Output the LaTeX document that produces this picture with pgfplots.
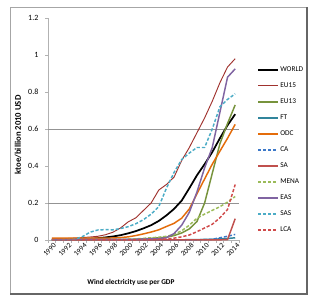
\documentclass[border=0pt]{standalone}
\usepackage{fontspec}
\setmainfont{Carlito}
\usepackage{pgfplots}
\usepackage{pgfplotstable}
\pgfplotsset{compat=1.18}
\definecolor{cEUa}{HTML}{A0322E}
\definecolor{cEUb}{HTML}{77933C}
\definecolor{cFT}{HTML}{31859C}
\definecolor{cODC}{HTML}{E46C0A}
\definecolor{cCA}{HTML}{3C78C8}
\definecolor{cSA}{HTML}{C0504D}
\definecolor{cMENA}{HTML}{9BBB59}
\definecolor{cEAS}{HTML}{8064A2}
\definecolor{cSAS}{HTML}{4BACC6}
\definecolor{cLCA}{HTML}{D04A4A}
\pgfplotstableread{
year WORLD EU15 EU13 FT ODC CA SA MENA EAS SAS LCA
1990 0.002 0.006 0.001 0.001 0.010 0.000 0.001 0.001 0.002 0.000 0.000
1991 0.002 0.007 0.001 0.001 0.010 0.000 0.001 0.001 0.002 0.000 0.000
1992 0.003 0.008 0.001 0.001 0.010 0.000 0.001 0.002 0.002 0.001 0.000
1993 0.004 0.010 0.001 0.001 0.010 0.000 0.001 0.002 0.003 0.003 0.000
1994 0.005 0.013 0.001 0.001 0.010 0.000 0.001 0.002 0.003 0.018 0.000
1995 0.007 0.016 0.001 0.001 0.010 0.000 0.001 0.002 0.003 0.042 0.001
1996 0.010 0.020 0.001 0.001 0.010 0.000 0.001 0.002 0.003 0.054 0.001
1997 0.014 0.028 0.001 0.001 0.010 0.000 0.001 0.003 0.003 0.056 0.001
1998 0.019 0.042 0.002 0.001 0.011 0.000 0.001 0.003 0.003 0.055 0.001
1999 0.026 0.065 0.002 0.001 0.013 0.000 0.001 0.003 0.004 0.062 0.001
2000 0.036 0.098 0.003 0.001 0.017 0.000 0.001 0.004 0.004 0.072 0.001
2001 0.048 0.120 0.004 0.001 0.024 0.000 0.001 0.006 0.004 0.088 0.001
2002 0.063 0.160 0.006 0.001 0.033 0.000 0.001 0.009 0.005 0.110 0.002
2003 0.080 0.200 0.009 0.001 0.043 0.000 0.001 0.012 0.006 0.140 0.002
2004 0.103 0.270 0.012 0.001 0.055 0.000 0.001 0.015 0.008 0.180 0.003
2005 0.133 0.300 0.015 0.001 0.073 0.000 0.001 0.020 0.012 0.280 0.005
2006 0.168 0.340 0.024 0.001 0.090 0.000 0.001 0.030 0.035 0.365 0.010
2007 0.213 0.430 0.038 0.001 0.118 0.000 0.001 0.050 0.080 0.435 0.017
2008 0.280 0.500 0.060 0.002 0.168 0.000 0.001 0.080 0.150 0.470 0.027
2009 0.350 0.580 0.100 0.002 0.250 0.001 0.001 0.118 0.260 0.500 0.045
2010 0.410 0.660 0.200 0.003 0.330 0.002 0.001 0.140 0.390 0.500 0.065
2011 0.475 0.750 0.360 0.004 0.410 0.004 0.001 0.160 0.500 0.600 0.085
2012 0.550 0.850 0.520 0.006 0.480 0.012 0.001 0.180 0.690 0.720 0.120
2013 0.620 0.935 0.630 0.008 0.550 0.020 0.002 0.205 0.880 0.760 0.165
2014 0.680 0.980 0.730 0.012 0.625 0.030 0.115 0.235 0.925 0.790 0.300
}\datatable
\begin{document}
\begin{tikzpicture}
\path[use as bounding box, fill=white] (0,0) rectangle (238.5pt,226.5pt);
\draw[gray!70, line width=0.6pt] (7.5pt,6.75pt) rectangle (229.5pt,221.25pt);
\draw[gray!80!black, line width=1.6pt] (7.5pt,6.2pt) -- (230.2pt,6.2pt) -- (230.2pt,221.25pt);
\begin{axis}[
  at={(36pt,46.5pt)}, anchor=south west,
  scale only axis, width=143.25pt, height=166.5pt,
  xmin=1989.5, xmax=2014.5, ymin=0, ymax=1.2,
  axis x line*=bottom, axis y line*=left,
  axis line style={gray!60, line width=0.6pt},
  xtick={1990,1992,...,2014}, major x tick style={draw=none},
  minor xtick={1989.5,1990.5,...,2014.5},
  minor tick length=2.2pt,
  x tick label style={rotate=45, anchor=east, font=\fontsize{5.5}{6}\selectfont, inner sep=0.5pt, yshift=-2.5pt, xshift=1.5pt, /pgf/number format/1000 sep={}},
  ytick={0,0.2,...,1.2}, major tick length=2.2pt,
  tick align=outside, tick style={gray!60, line width=0.5pt},
  y tick label style={font=\fontsize{6}{6.5}\selectfont, /pgf/number format/fixed, /pgf/number format/precision=1, xshift=-1.5pt},
  /pgf/number format/assume math mode=true,
  extra y ticks={0.2,0.6}, extra y tick labels={},
  extra y tick style={grid=major, major grid style={gray!85, line width=0.7pt}},
  legend style={at={(1.073,0.797)}, anchor=north west, draw=none, fill=none,
    font=\fontsize{5.5}{6}\selectfont, row sep=6.2pt, column sep=1pt,
    nodes={inner sep=0pt, text height=4.3pt, text depth=1.5pt}},
  legend cell align=left,
  legend image code/.code={\draw[#1] (0pt,0pt) -- (15pt,0pt);},
  clip=false,
  every axis plot/.append style={line join=round},
]
\addplot[black, line width=1.3pt] table[x=year,y=WORLD]{\datatable};
\addlegendentry{WORLD}
\addplot[cEUa, line width=0.7pt] table[x=year,y=EU15]{\datatable};
\addlegendentry{EU15}
\addplot[cEUb, line width=1.1pt] table[x=year,y=EU13]{\datatable};
\addlegendentry{EU13}
\addplot[cFT, line width=1.1pt] table[x=year,y=FT]{\datatable};
\addlegendentry{FT}
\addplot[cODC, line width=1.1pt] table[x=year,y=ODC]{\datatable};
\addlegendentry{ODC}
\addplot[cCA, line width=1.1pt, dash pattern=on 2.4pt off 1.4pt] table[x=year,y=CA]{\datatable};
\addlegendentry{CA}
\addplot[cSA, line width=1.1pt] table[x=year,y=SA]{\datatable};
\addlegendentry{SA}
\addplot[cMENA, line width=1.1pt, dash pattern=on 2.4pt off 1.4pt] table[x=year,y=MENA]{\datatable};
\addlegendentry{MENA}
\addplot[cEAS, line width=1.1pt] table[x=year,y=EAS]{\datatable};
\addlegendentry{EAS}
\addplot[cSAS, line width=1.1pt, dash pattern=on 2.4pt off 1.4pt] table[x=year,y=SAS]{\datatable};
\addlegendentry{SAS}
\addplot[cLCA, line width=1.1pt, dash pattern=on 2.4pt off 1.4pt] table[x=year,y=LCA]{\datatable};
\addlegendentry{LCA}
\end{axis}
\node[rotate=90, font=\bfseries\fontsize{6.5}{7}\selectfont] at (13.5pt,125.25pt) {ktoe/billion 2010 USD};
\node[font=\bfseries\fontsize{5.5}{6}\selectfont] at (98.25pt,14.25pt) {Wind electricity use per GDP};
\end{tikzpicture}
\end{document}
